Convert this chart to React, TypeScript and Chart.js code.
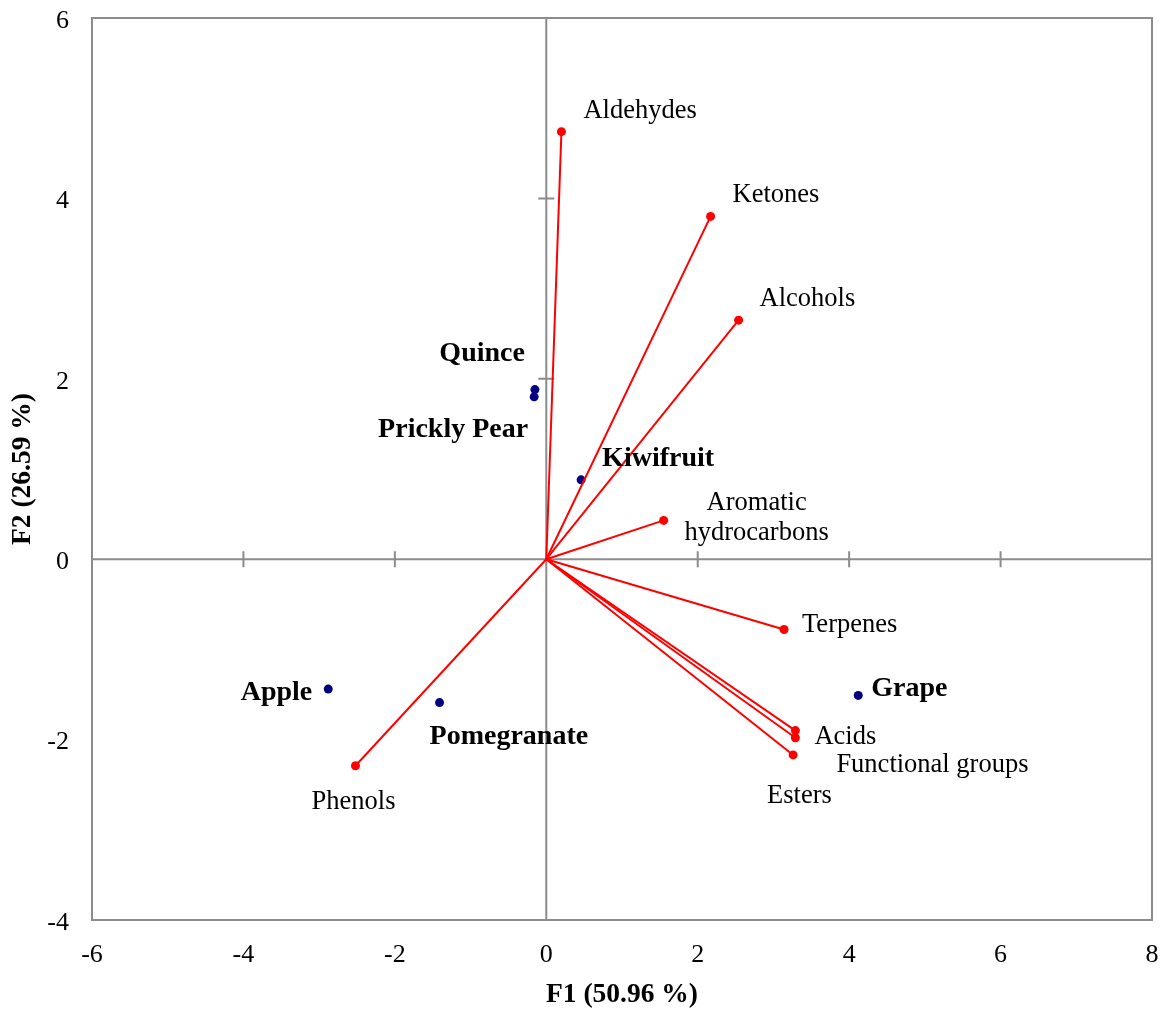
import React, { useEffect, useRef } from 'react';
import { Chart, registerables } from 'chart.js';

Chart.register(...registerables);

// ---- Data ----
const variableNames = ['Aldehydes', 'Ketones', 'Alcohols', 'Aromatic hydrocarbons', 'Terpenes', 'Acids', 'Functional groups', 'Esters', 'Phenols'];
const variableF1 = [0.2, 2.17, 2.54, 1.55, 3.14, 3.29, 3.29, 3.26, -2.52];
const variableF2 = [4.74, 3.8, 2.65, 0.43, -0.78, -1.9, -1.98, -2.17, -2.29];

const observationNames = ['Quince', 'Prickly Pear', 'Kiwifruit', 'Apple', 'Pomegranate', 'Grape'];
const observationF1 = [-0.15, -0.16, 0.46, -2.88, -1.41, 4.12];
const observationF2 = [1.88, 1.8, 0.88, -1.44, -1.59, -1.51];

const xTickValues = [-6, -4, -2, 0, 2, 4, 6, 8];
const yTickValues = [-4, -2, 0, 2, 4, 6];
const xAxisMarks = [-4, -2, 2, 4, 6];
const yAxisMarks = [2, 4];

const xTitle = 'F1 (50.96 %)';
const yTitle = 'F2 (26.59 %)';

// ---- Label placement (pixel offsets from the point) ----
type LabelPos = { dx: number; dy: number; align: CanvasTextAlign; lines?: string[] };
const variableLabelPos: LabelPos[] = [
  { dx: 22, dy: -21, align: 'left' },
  { dx: 22, dy: -21, align: 'left' },
  { dx: 21, dy: -21, align: 'left' },
  { dx: 93, dy: -17, align: 'center', lines: ['Aromatic', 'hydrocarbons'] },
  { dx: 18, dy: -5, align: 'left' },
  { dx: 19, dy: 6, align: 'left' },
  { dx: 41, dy: 27, align: 'left' },
  { dx: -26, dy: 41, align: 'left' },
  { dx: -2, dy: 36, align: 'center' },
];
const observationLabelPos: LabelPos[] = [
  { dx: -10, dy: -36, align: 'right' },
  { dx: -6, dy: 33, align: 'right' },
  { dx: 21, dy: -21, align: 'left' },
  { dx: -16, dy: 4, align: 'right' },
  { dx: -10, dy: 34, align: 'left' },
  { dx: 13, dy: -7, align: 'left' },
];

const FONT = "'Liberation Serif', 'Times New Roman', serif";
const GRAY = '#8c8c8c';
const RED = '#ff0000';
const NAVY = '#000080';

const decorPlugin = {
  id: 'decor',
  beforeDatasetsDraw(chart: any) {
    const { ctx, chartArea } = chart;
    const xs = chart.scales.x;
    const ys = chart.scales.y;
    ctx.save();
    ctx.strokeStyle = GRAY;
    ctx.lineWidth = 2;
    ctx.strokeRect(chartArea.left, chartArea.top, chartArea.right - chartArea.left, chartArea.bottom - chartArea.top);
    const x0 = xs.getPixelForValue(0);
    const y0 = ys.getPixelForValue(0);
    ctx.beginPath();
    ctx.moveTo(chartArea.left, y0);
    ctx.lineTo(chartArea.right, y0);
    ctx.moveTo(x0, chartArea.top);
    ctx.lineTo(x0, chartArea.bottom);
    xAxisMarks.forEach((v) => {
      const px = xs.getPixelForValue(v);
      ctx.moveTo(px, y0 - 8);
      ctx.lineTo(px, y0 + 8);
    });
    yAxisMarks.forEach((v) => {
      const py = ys.getPixelForValue(v);
      ctx.moveTo(x0 - 8, py);
      ctx.lineTo(x0 + 8, py);
    });
    ctx.stroke();
    ctx.restore();
  },
  afterDatasetsDraw(chart: any) {
    const { ctx, chartArea } = chart;
    const xs = chart.scales.x;
    const ys = chart.scales.y;
    ctx.save();
    ctx.fillStyle = '#000';
    ctx.textBaseline = 'middle';
    ctx.font = `26.5px ${FONT}`;
    variableNames.forEach((name, i) => {
      const p = variableLabelPos[i];
      const px = xs.getPixelForValue(variableF1[i]);
      const py = ys.getPixelForValue(variableF2[i]);
      ctx.textAlign = p.align;
      const lines = p.lines || [name];
      lines.forEach((ln, k) => ctx.fillText(ln, px + p.dx, py + p.dy + k * 30));
    });
    ctx.font = `bold 28px ${FONT}`;
    observationNames.forEach((name, i) => {
      const p = observationLabelPos[i];
      const px = xs.getPixelForValue(observationF1[i]);
      const py = ys.getPixelForValue(observationF2[i]);
      ctx.textAlign = p.align;
      ctx.fillText(name, px + p.dx, py + p.dy);
    });
    // axis titles
    ctx.font = `bold 27.5px ${FONT}`;
    ctx.textAlign = 'center';
    ctx.fillText(xTitle, (chartArea.left + chartArea.right) / 2, 995);
    ctx.translate(23, (chartArea.top + chartArea.bottom) / 2);
    ctx.rotate(-Math.PI / 2);
    ctx.fillText(yTitle, 0, 0);
    ctx.restore();
  },
};

export default function App() {
  const ref = useRef<HTMLCanvasElement | null>(null);
  useEffect(() => {
    if (!ref.current) return;
    const datasets: any[] = variableNames.map((name, i) => ({
      label: name,
      data: [
        { x: 0, y: 0 },
        { x: variableF1[i], y: variableF2[i] },
      ],
      showLine: true,
      borderColor: RED,
      borderWidth: 2,
      pointRadius: [0, 4.5],
      pointBackgroundColor: RED,
      pointBorderWidth: 0,
    }));
    datasets.push({
      label: 'Observations',
      data: observationNames.map((_, i) => ({ x: observationF1[i], y: observationF2[i] })),
      showLine: false,
      pointRadius: 4.5,
      pointBackgroundColor: NAVY,
      pointBorderWidth: 0,
    });
    const chart = new Chart(ref.current, {
      type: 'scatter',
      data: { datasets },
      plugins: [decorPlugin],
      options: {
        responsive: false,
        animation: false,
        layout: { padding: { top: 18, right: 15, left: 0, bottom: 0 } },
        plugins: { legend: { display: false }, tooltip: { enabled: false } },
        scales: {
          x: {
            type: 'linear',
            min: -6,
            max: 8,
            afterBuildTicks: (s: any) => {
              s.ticks = xTickValues.map((v) => ({ value: v }));
            },
            afterFit: (s: any) => {
              s.height = 94;
              s.paddingLeft = 0;
              s.paddingRight = 0;
            },
            grid: { display: false, drawTicks: false },
            border: { display: false },
            ticks: { color: '#000', font: { family: FONT, size: 26 }, padding: 20, maxRotation: 0 },
          },
          y: {
            type: 'linear',
            min: -4,
            max: 6,
            afterBuildTicks: (s: any) => {
              s.ticks = yTickValues.map((v) => ({ value: v }));
            },
            afterFit: (s: any) => {
              s.width = 92;
              s.paddingTop = 0;
              s.paddingBottom = 0;
            },
            grid: { display: false, drawTicks: false },
            border: { display: false },
            ticks: { color: '#000', font: { family: FONT, size: 26 }, padding: 23, labelOffset: 3 },
          },
        },
      },
    });
    return () => chart.destroy();
  }, []);
  return (
    <canvas
      ref={ref}
      width={1167}
      height={1014}
      style={{ position: 'absolute', left: 0, top: 0, display: 'block', background: '#fff' }}
    />
  );
}
